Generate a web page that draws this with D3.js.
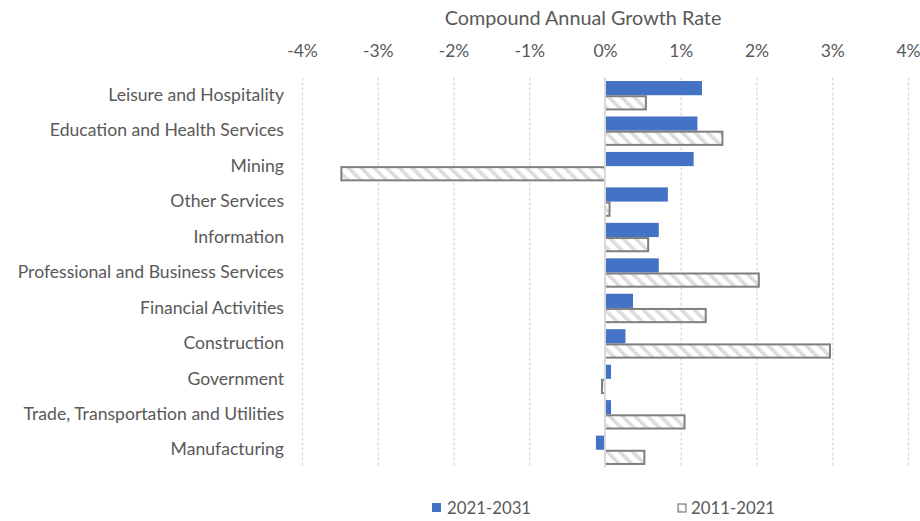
<!DOCTYPE html>
<html><head><meta charset="utf-8">
<script src="https://cdn.jsdelivr.net/npm/d3@7"></script>
<style>body{margin:0;background:#fff}svg{display:block}</style>
</head><body>
<svg id="c" width="920" height="521"></svg>
<script>
const categories = ["Leisure and Hospitality","Education and Health Services","Mining","Other Services","Information","Professional and Business Services","Financial Activities","Construction","Government","Trade, Transportation and Utilities","Manufacturing"];
const series2021_2031 = [1.28,1.22,1.17,0.83,0.71,0.71,0.37,0.27,0.08,0.08,-0.12];
const series2011_2021 = [0.54,1.55,-3.48,0.06,0.57,2.03,1.33,2.97,-0.04,1.05,0.52];
const tickValues = [-4,-3,-2,-1,0,1,2,3,4];
const seriesNames = ["2021-2031","2011-2021"];

const font = "Lato, 'Open Sans', sans-serif";
const textColor = "#595959";
const svg = d3.select("#c");
const defs = svg.append("defs");
const pat = defs.append("pattern").attr("id","hatch").attr("patternUnits","userSpaceOnUse")
  .attr("width",9).attr("height",9).attr("patternTransform","rotate(-45)");
pat.append("rect").attr("width",9).attr("height",9).attr("fill","#fff");
pat.append("rect").attr("width",3.6).attr("height",9).attr("fill","#dcdcdc");

const x = d3.scaleLinear().domain([-4,4]).range([302,908]);
const y0 = d3.scaleBand().domain(categories).range([77.5,467.5]);

// gridlines
svg.append("g").selectAll("line").data(tickValues.filter(d=>d!==0)).join("line")
  .attr("x1",d=>x(d)+0.5).attr("x2",d=>x(d)+0.5).attr("y1",77.5).attr("y2",467.5)
  .attr("stroke","#d9d9d9").attr("stroke-width",1.3).attr("stroke-dasharray","3,2");

// top axis labels
const ax = svg.append("g").attr("transform","translate(0,57)")
  .call(d3.axisTop(x).tickValues(tickValues).tickSize(0).tickPadding(0).tickFormat(d=>d+"%"));
ax.select(".domain").remove();
ax.selectAll("text").attr("font-family",font).attr("font-size",17.5).attr("fill",textColor);

// title
svg.append("text").attr("x",583).attr("y",25).attr("text-anchor","middle")
  .attr("font-family",font).attr("font-size",19.8).attr("fill",textColor).text("Compound Annual Growth Rate");

// bars
const g = svg.append("g");
const bh = 14.2;
categories.forEach((c,i)=>{
  const top = y0(c) + y0.bandwidth()/2 - bh;
  const v1 = series2021_2031[i], v2 = series2011_2021[i];
  g.append("rect").attr("x",Math.min(x(0),x(v1))).attr("width",Math.abs(x(v1)-x(0)))
    .attr("y",top).attr("height",bh).attr("fill","#4472c4");
  g.append("rect").attr("x",Math.min(x(0),x(v2))).attr("width",Math.abs(x(v2)-x(0)))
    .attr("y",top+bh+1).attr("height",bh-1).attr("fill","url(#hatch)")
    .attr("stroke","#7f7f7f").attr("stroke-width",2);
});

// zero line
svg.append("line").attr("x1",x(0)).attr("x2",x(0)).attr("y1",77.5).attr("y2",467.5)
  .attr("stroke","#d9d9d9").attr("stroke-width",2);

// category labels
const ay = svg.append("g").attr("transform","translate(284,0)")
  .call(d3.axisLeft(y0).tickSize(0).tickPadding(0));
ay.select(".domain").remove();
ay.selectAll("text").attr("font-family",font).attr("font-size",17.6).attr("fill",textColor);

// legend
const lg = svg.append("g");
lg.append("rect").attr("x",432).attr("y",503).attr("width",9).attr("height",9).attr("fill","#4472c4");
lg.append("text").attr("x",447).attr("y",514).attr("font-family",font).attr("font-size",16.8).attr("fill",textColor).text(seriesNames[0]);
lg.append("rect").attr("x",678).attr("y",504).attr("width",8).attr("height",8).attr("fill","url(#hatch)").attr("stroke","#7f7f7f").attr("stroke-width",1.2);
lg.append("text").attr("x",691).attr("y",514).attr("font-family",font).attr("font-size",16.8).attr("fill",textColor).text(seriesNames[1]);
</script>
</body></html>
